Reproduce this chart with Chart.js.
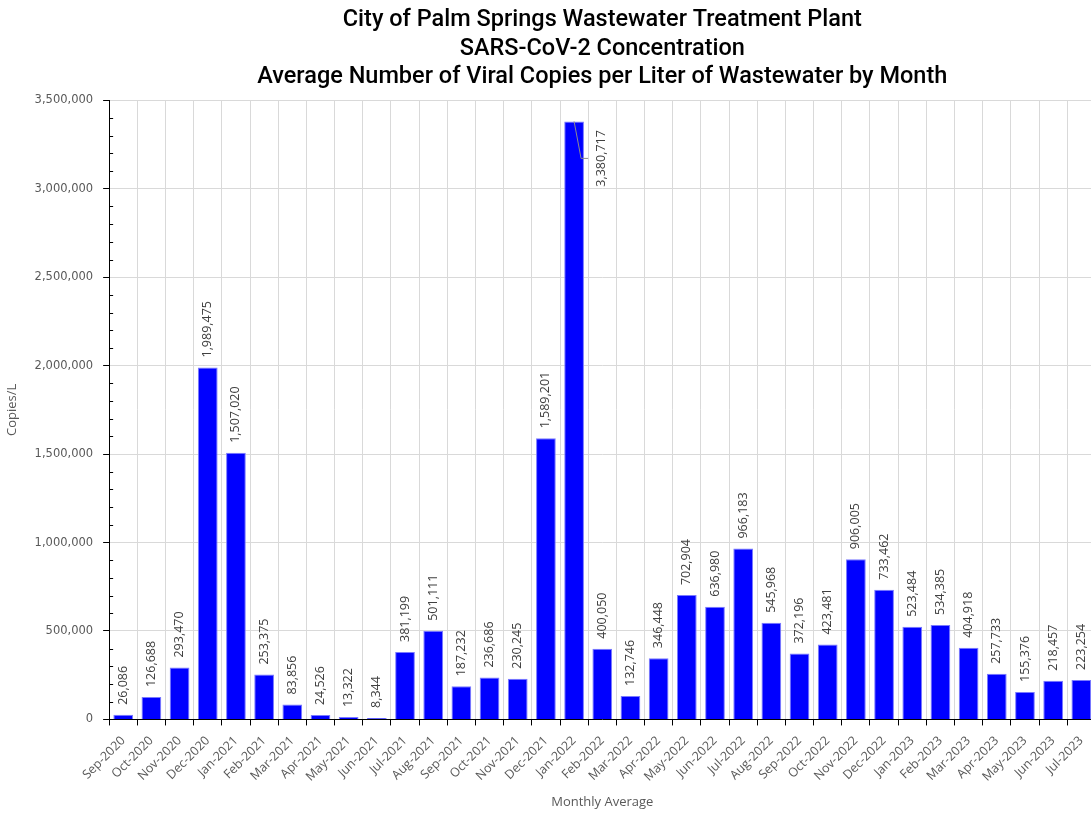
<!DOCTYPE html>
<html>
<head>
<meta charset="utf-8">
<script src="https://cdn.jsdelivr.net/npm/chart.js@4"></script>
<style>
  html, body { margin: 0; padding: 0; background: #fff; overflow: hidden; }
  #wrap { position: absolute; left: 0; top: 0; width: 1100px; height: 813px; }
</style>
</head>
<body>
<div id="wrap"><canvas id="chartWastewater"></canvas></div>
<script>
// datos del gráfico
const months = [
  "Sep-2020", "Oct-2020", "Nov-2020", "Dec-2020",
  "Jan-2021", "Feb-2021", "Mar-2021", "Apr-2021", "May-2021", "Jun-2021",
  "Jul-2021", "Aug-2021", "Sep-2021", "Oct-2021", "Nov-2021", "Dec-2021",
  "Jan-2022", "Feb-2022", "Mar-2022", "Apr-2022", "May-2022", "Jun-2022",
  "Jul-2022", "Aug-2022", "Sep-2022", "Oct-2022", "Nov-2022", "Dec-2022",
  "Jan-2023", "Feb-2023", "Mar-2023", "Apr-2023", "May-2023", "Jun-2023", "Jul-2023",
];
const copiesPerLiter = [
  26086, 126688, 293470, 1989475,
  1507020, 253375, 83856, 24526, 13322, 8344,
  381199, 501111, 187232, 236686, 230245, 1589201,
  3380717, 400050, 132746, 346448, 702904, 636980,
  966183, 545968, 372196, 423481, 906005, 733462,
  523484, 534385, 404918, 257733, 155376, 218457, 223254,
];
const yMax = 3500000;
const yMajor = 500000;
const yMinor = 100000;

const fmt = (v) => Number(v).toLocaleString("en-US");

// etiquetas verticales sobre cada barra
const barLabels = {
  id: "barLabels",
  afterDatasetsDraw(chart) {
    const { ctx, chartArea } = chart;
    const meta = chart.getDatasetMeta(0);
    ctx.save();
    ctx.font = '12.5px "Open Sans"';
    ctx.fillStyle = "#404040";
    ctx.textBaseline = "middle";
    meta.data.forEach((bar, i) => {
      const txt = fmt(copiesPerLiter[i]);
      const w = ctx.measureText(txt).width;
      const y = bar.y - 10;
      ctx.save();
      if (y - w < chartArea.top) {
        // no entra arriba: al costado con línea guía
        const ly = bar.y + 37;
        ctx.strokeStyle = "#8c8c8c";
        ctx.lineWidth = 1;
        ctx.beginPath();
        ctx.moveTo(bar.x, bar.y);
        ctx.lineTo(bar.x + 7, ly);
        ctx.lineTo(bar.x + 14, ly);
        ctx.stroke();
        ctx.translate(bar.x + 27, ly);
        ctx.rotate(-Math.PI / 2);
        ctx.textAlign = "center";
        ctx.fillText(txt, 0, 0);
      } else {
        ctx.translate(bar.x, y);
        ctx.rotate(-Math.PI / 2);
        ctx.textAlign = "left";
        ctx.fillText(txt, 0, 0);
      }
      ctx.restore();
    });
    ctx.restore();
  },
};

// marcas menores del eje Y (hacia adentro)
const minorTicks = {
  id: "minorTicks",
  afterDraw(chart) {
    const y = chart.scales.y;
    const { ctx } = chart;
    ctx.save();
    ctx.strokeStyle = "#000";
    ctx.lineWidth = 1;
    for (let v = yMinor; v < yMax; v += yMinor) {
      if (v % yMajor === 0) continue;
      const py = Math.round(y.getPixelForValue(v)) + 0.5;
      ctx.beginPath();
      ctx.moveTo(y.right, py);
      ctx.lineTo(y.right + 4, py);
      ctx.stroke();
    }
    ctx.restore();
  },
};

const ctxBars = document.getElementById("chartWastewater");
new Chart(ctxBars, {
  type: "bar",
  data: {
    labels: months,
    datasets: [
      {
        label: "Copies/L",
        data: copiesPerLiter,
        backgroundColor: "#0000ff",
        borderColor: "#7a7aff",
        borderWidth: 1,
        categoryPercentage: 0.7,
        barPercentage: 1,
      },
    ],
  },
  options: {
    responsive: true,
    maintainAspectRatio: false,
    animation: false,
    layout: { padding: { left: 4, right: 1, top: 0, bottom: 3 } },
    plugins: {
      legend: { display: false },
      tooltip: { enabled: false },
      title: {
        display: true,
        fullSize: false,
        text: [
          "City of Palm Springs Wastewater Treatment Plant",
          "SARS-CoV-2 Concentration",
          "Average Number of Viral Copies per Liter of Wastewater by Month",
        ],
        color: "#000",
        font: { family: "Roboto", size: 23.5, weight: "500", lineHeight: 1.21 },
        padding: { top: 6, bottom: 9 },
      },
    },
    scales: {
      x: {
        offset: true,
        grid: { color: "#d9d9d9", tickColor: "#000", tickLength: 6, offset: true },
        border: { color: "#000" },
        ticks: {
          color: "#595959",
          font: { family: "Open Sans", size: 12.5 },
          minRotation: 45,
          maxRotation: 45,
          autoSkip: false,
          padding: 8,
        },
        title: {
          display: true,
          text: "Monthly Average",
          color: "#595959",
          font: { family: "Open Sans", size: 13 },
          padding: { top: 2, bottom: 0 },
        },
      },
      y: {
        min: 0,
        max: yMax,
        grid: {
          color: (c) => (c.tick && c.tick.value % yMajor === 0 ? "#d9d9d9" : "transparent"),
          tickColor: (c) => (c.tick && c.tick.value % yMajor === 0 ? "#000" : "transparent"),
          tickLength: 6,
        },
        border: { color: "#000" },
        ticks: {
          stepSize: yMinor,
          autoSkip: false,
          color: "#595959",
          font: { family: "DejaVu Sans", size: 11.5 },
          padding: 10,
          callback: (v) => (v % yMajor === 0 ? fmt(v) : ""),
        },
        title: {
          display: true,
          text: "Copies/L",
          color: "#595959",
          font: { family: "Open Sans", size: 13 },
          padding: { top: 0, bottom: 5 },
        },
      },
    },
  },
  plugins: [barLabels, minorTicks],
});
</script>
</body>
</html>
